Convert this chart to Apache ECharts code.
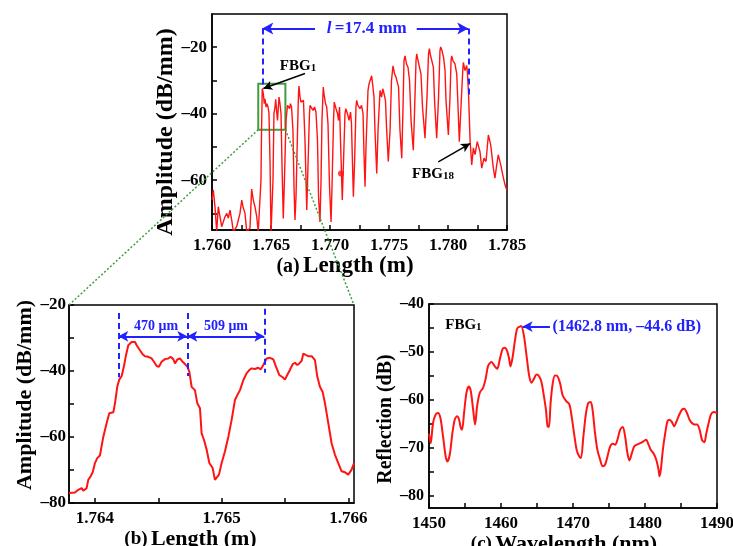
<!DOCTYPE html>
<html><head><meta charset="utf-8">
<script src="https://cdn.jsdelivr.net/npm/echarts@6/dist/echarts.min.js"></script>
<style>html,body{margin:0;padding:0;background:#fff}#c{width:733px;height:546px}</style>
</head><body><div id="c"></div>
<script>
// ---------- Panel (a): amplitude vs length ----------
const lenA = [
1.76000,1.76011,1.76025,1.76040,1.76053,1.76068,1.76082,1.76096,1.76110,1.76125,
1.76138,1.76153,1.76167,1.76181,1.76195,1.76209,1.76223,1.76237,1.76252,1.76265,
1.76280,1.76294,1.76308,1.76322,1.76336,1.76350,1.76364,1.76379,1.76392,1.76407,
1.76415,
1.76420,1.76426,1.76435,1.76443,1.76449,1.76458,1.76466,1.76475,1.76483,1.76492,
1.76500,1.76509,1.76517,1.76525,1.76534,1.76540,1.76547,1.76555,1.76562,1.76568,
1.76576,1.76585,1.76593,1.76604,1.76614,1.76627,1.76640,1.76647,1.76657,1.76665,
1.76674,1.76686,1.76695,1.76703,1.76712,1.76725,1.76733,1.76737,1.76746,1.76754,
1.76767,1.76775,1.76788,1.76803,1.76814,1.76826,1.76831,1.76843,1.76856,1.76869,
1.76881,1.76894,1.76903,1.76915,1.76924,1.76932,1.76943,1.76949,1.76962,1.76972,
1.76983,1.76996,1.77009,1.77017,1.77030,1.77036,1.77051,1.77064,1.77072,1.77081,
1.77089,1.77104,1.77114,1.77127,1.77134,1.77148,1.77161,1.77174,1.77182,1.77187,
1.77198,1.77208,1.77220,1.77226,1.77237,1.77254,1.77267,1.77280,1.77288,1.77297,
1.77305,1.77322,1.77331,1.77353,1.77364,1.77373,1.77381,1.77396,1.77407,1.77424,
1.77437,1.77447,1.77458,1.77470,1.77479,1.77494,1.77509,1.77521,1.77534,1.77547,
1.77559,1.77572,1.77581,1.77593,1.77608,1.77619,1.77627,1.77636,1.77648,1.77661,
1.77674,1.77687,1.77706,1.77716,1.77729,1.77735,1.77746,1.77759,1.77771,1.77784,
1.77805,1.77822,1.77835,1.77842,1.77852,1.77865,1.77876,1.77886,1.77904,1.77920,
1.77932,1.77938,1.77949,1.77962,1.77975,1.77983,1.78003,1.78017,1.78026,1.78031,
1.78042,1.78059,1.78074,1.78085,1.78096,1.78110,1.78125,1.78130,1.78144,1.78159,
1.78165,1.78174,1.78187,1.78201,1.78215,1.78229,1.78248,1.78271,1.78286,1.78305,
1.78322,1.78342,1.78362,1.78384,1.78398,1.78413,1.78426,1.78447,1.78464,1.78483,
1.78498];
const ampA = [
-66,-62.9,-67.9,-75.5,-68,-68.4,-74,-72.5,-71,-70,
-71.4,-69,-72,-75.5,-75,-74,-72,-70,-66,-68.4,
-70,-75.5,-75,-74.4,-62.7,-66,-68,-71,-75.5,-76,
-60,
-45,-32.4,-34,-37,-35.5,-38,-37,-38,-40,-55,
-76,-76,-60,-40,-38,-35.7,-39,-42,-38,-35,
-37,-40,-55,-71.5,-60,-42,-37.5,-37.8,-38.5,-37,
-38,-45,-62,-72,-65,-45,-34,-31.7,-35,-36.5,
-37,-36,-48,-69,-55,-40,-37.5,-38,-39,-38,
-39.5,-48,-65,-72.6,-60,-42,-32,-34,-37,-38,
-43,-62,-72.6,-62,-42,-36.5,-38.5,-40,-42,-38,
-48,-66,-55,-40,-38.5,-40,-42,-39.5,-43,-50,
-65,-55,-38,-36,-37.5,-38.5,-37.5,-40,-52,-62,
-50,-33,-31,-28.6,-32,-35,-45,-58,-45,-33,
-35,-32.5,-34,-36,-44,-54.4,-45,-30,-25.6,-28,
-29,-28.5,-32,-45,-53.4,-38,-24,-22.6,-25,-26,
-30,-42,-51,-40,-24,-22,-24,-24.5,-28,-38,
-47.4,-35,-22,-20.4,-22.5,-23,-26,-36,-47.4,-35,
-21,-19.9,-21,-23,-27,-36,-46.4,-35,-24,-22.6,
-24,-25,-28,-38,-48.4,-38,-27,-24.6,-27,-25.5,
-28,-34,-48,-55.4,-50.3,-52.3,-48.4,-51.4,-56.4,-53.4,
-54.4,-46.4,-49.4,-56.4,-59.4,-55.4,-52.4,-55.4,-58.4,-61.4,
-63];
const dotLenA = [1.77093];
const dotAmpA = [-58];
const tickXA = [1.760,1.7625,1.765,1.7675,1.770,1.7725,1.775,1.7775,1.780,1.7825,1.785];
const labXA = [1.760,1.765,1.770,1.775,1.780,1.785];
const tickYA = [-70,-60,-50,-40,-30,-20];
const labYA = [-60,-40,-20];

// ---------- Panel (b): zoom on FBG1 ----------
const lenB = [
1.763795,1.763842,1.763868,1.763882,1.763895,1.763908,1.763921,1.763934,1.763947,1.763966,
1.763982,1.764000,1.764018,1.764039,1.764066,1.764092,1.764113,1.764145,1.764158,1.764176,
1.764192,1.764211,1.764229,1.764245,1.764263,1.764289,1.764316,1.764329,1.764355,1.764376,
1.764395,1.764421,1.764447,1.764466,1.764487,1.764505,1.764526,1.764553,1.764579,1.764597,
1.764618,1.764632,1.764650,1.764671,1.764692,1.764711,1.764729,1.764745,1.764763,1.764789,
1.764808,1.764829,1.764842,1.764861,1.764882,1.764903,1.764929,1.764947,1.764961,1.764979,
1.765000,1.765026,1.765053,1.765079,1.765105,1.765124,1.765145,1.765171,1.765197,1.765218,
1.765237,1.765263,1.765289,1.765308,1.765329,1.765342,1.765355,1.765382,1.765408,1.765429,
1.765455,1.765482,1.765500,1.765518,1.765539,1.765561,1.765579,1.765597,1.765613,1.765632,
1.765645,1.765666,1.765684,1.765711,1.765737,1.765755,1.765776,1.765797,1.765816,1.765842,
1.765868,1.765895,1.765921,1.765947,1.765974,1.766000,1.766026,1.766045];
const ampB = [
-77.0,-76.8,-76.0,-76.5,-75.5,-76.3,-76.7,-75.5,-73.0,-71.9,
-70.7,-67.9,-66.4,-65.6,-59.9,-55.8,-52.8,-52.5,-49.8,-44.8,
-42.6,-41.5,-38.5,-35.2,-32.2,-31.2,-31.2,-32.2,-33.7,-34.9,
-35.5,-35.7,-36.2,-37.2,-38.5,-38.7,-37.2,-36.4,-36.2,-35.7,
-36.4,-37.7,-36.5,-36.2,-37.2,-37.9,-38.7,-40.2,-44.8,-45.8,
-49.8,-51.3,-58.9,-60.9,-63.9,-67.9,-69.4,-73.0,-73.5,-71.4,
-67.9,-64.4,-59.9,-54.8,-48.8,-47.3,-45.8,-42.8,-40.7,-39.7,
-39.2,-39.4,-39.0,-39.5,-38.2,-37.2,-36.2,-36.0,-36.5,-38.7,
-41.2,-41.9,-42.6,-41.2,-39.7,-37.9,-37.5,-38.2,-37.7,-36.9,
-34.7,-35.2,-35.5,-35.5,-36.7,-41.7,-44.8,-46.3,-49.8,-55.8,
-61.9,-65.4,-67.9,-70.4,-70.7,-71.4,-69.9,-67.9];
const xRangeB = [1.763795, 1.766045];
const yRangeB = [-80, -20];
const tickXB = [1.764,1.7645,1.765,1.7655,1.766];
const labXB = [1.764,1.765,1.766];
const tickYB = [-80,-70,-60,-50,-40,-30,-20];
const labYB = [-80,-60,-40,-20];

// ---------- Panel (c): reflection spectrum of FBG1 ----------
const wlC = [
1450.00,1450.23,1450.56,1450.93,1451.25,1451.58,1451.95,1452.32,1452.55,1452.88,
1453.25,1453.57,1453.90,1454.18,1454.41,1454.59,1454.87,1455.20,1455.52,1455.80,
1456.13,1456.40,1456.68,1457.05,1457.52,1457.89,1458.21,1458.68,1459.14,1459.47,
1459.84,1460.21,1460.53,1460.86,1461.14,1461.32,1461.60,1461.93,1462.25,1462.62,
1462.80,1463.18,1463.55,1463.92,1464.25,1464.57,1464.94,1465.31,1465.64,1465.96,
1466.24,1466.47,1466.66,1466.89,1467.17,1467.49,1467.82,1468.19,1468.56,1469.03,
1469.49,1469.81,1470.14,1470.51,1470.88,1471.11,1471.44,1471.81,1472.13,1472.46,
1472.74,1473.06,1473.39,1473.76,1474.13,1474.45,1474.78,1475.15,1475.52,1475.85,
1476.17,1476.54,1476.91,1477.24,1477.56,1477.84,1478.17,1478.49,1478.86,1479.33,
1479.79,1480.16,1480.49,1480.81,1481.18,1481.55,1481.88,1482.02,1482.20,1482.48,
1482.81,1483.13,1483.41,1483.74,1484.06,1484.34,1484.66,1485.13,1485.45,1485.82,
1486.19,1486.52,1486.84,1487.22,1487.59,1487.91,1488.24,1488.52,1488.84,1489.17,
1489.54,1490.00];
const refC = [
-67.0,-69.0,-64.8,-63.0,-62.7,-63.7,-67.6,-71.8,-72.8,-71.4,
-66.9,-64.1,-63.4,-64.1,-65.8,-66.2,-62.7,-58.5,-57.2,-58.1,
-62.0,-65.1,-61.3,-58.5,-57.4,-55.4,-52.9,-52.1,-53.0,-53.5,
-51.5,-49.4,-49.1,-49.8,-51.5,-53.0,-51.2,-47.7,-45.1,-44.7,
-44.6,-46.6,-50.8,-55.0,-56.4,-55.6,-54.7,-55.1,-56.4,-59.2,
-62.0,-65.5,-65.6,-60.6,-56.7,-54.9,-55.0,-56.4,-59.0,-60.2,
-60.9,-63.4,-66.9,-70.4,-71.8,-72.1,-67.6,-62.7,-60.6,-60.4,
-62.3,-66.9,-70.4,-72.4,-73.8,-73.5,-71.8,-69.7,-69.1,-69.3,
-68.3,-66.2,-65.6,-67.6,-71.1,-72.6,-71.1,-69.7,-69.3,-69.0,
-68.6,-68.3,-69.3,-70.4,-71.1,-72.4,-74.5,-75.9,-74.5,-70.4,
-66.9,-64.4,-64.1,-64.6,-65.5,-64.6,-63.4,-62.0,-61.8,-62.7,
-64.1,-64.8,-65.1,-65.1,-66.2,-68.3,-68.8,-66.9,-64.8,-63.0,
-62.5,-62.7];
const tickXC = [1450,1455,1460,1465,1470,1475,1480,1485,1490];
const labXC = [1450,1460,1470,1480,1490];
const tickYC = [-80,-75,-70,-65,-60,-55,-50,-45,-40];
const labYC = [-80,-70,-60,-50,-40];
const peakC = [1462.8, -44.6];

// zoom window drawn on (a)
const zoomBox = {x0: 1.76392, x1: 1.76622, yTop: -31, yBottom: -44.8};

const zip = (xs, ys) => xs.map((x, i) => [x, ys[i]]);
const SERIF = '"Liberation Serif","Times New Roman",serif';
const RED = '#ff1414', BLUE = '#2222ff', GREEN = '#3f9f3f', BLACK = '#000';
const neg = v => (v < 0 ? '\u2013' + Math.abs(v) : String(v));
const tf = (size, color) => ({fontFamily: SERIF, fontWeight: 'bold', fontSize: size, color: color || BLACK});

function xAx(gi, min, max, ticks, labs, fmt, name, rich, gap, pad, fs) {
  return {
    gridIndex: gi, type: 'value', min: min, max: max,
    axisLine: {show: true, onZero: false, lineStyle: {color: BLACK, width: 1.5}},
    axisTick: {show: true, inside: true, length: 5, customValues: ticks, lineStyle: {color: BLACK, width: 1.5}},
    axisLabel: Object.assign({customValues: labs, formatter: fmt, margin: 7}, tf(fs)),
    splitLine: {show: false},
    name: name, nameLocation: 'middle', nameGap: gap,
    nameTextStyle: {rich: rich, padding: pad}
  };
}
function yAx(gi, min, max, ticks, labs, name, fs, gap, nfs, pad, margin) {
  return {
    gridIndex: gi, type: 'value', min: min, max: max,
    axisLine: {show: true, onZero: false, lineStyle: {color: BLACK, width: 1.5}},
    axisTick: {show: true, inside: true, length: 5, customValues: ticks, lineStyle: {color: BLACK, width: 1.5}},
    axisLabel: Object.assign({customValues: labs, formatter: neg, margin: margin}, tf(fs)),
    splitLine: {show: false},
    name: name, nameLocation: 'middle', nameGap: gap,
    nameTextStyle: Object.assign({padding: pad}, tf(nfs))
  };
}
const richTitle = (a, b) => ({p: tf(a), q: tf(b)});

const chart = echarts.init(document.getElementById('c'));
const gridBase = {show: true, borderColor: BLACK, borderWidth: 1.5, backgroundColor: 'transparent', containLabel: false, outerBoundsMode: 'none'};

const option = {
  animation: false,
  backgroundColor: '#fff',
  grid: [
    Object.assign({left: 212, top: 14, width: 295, height: 216}, gridBase),
    Object.assign({left: 69, top: 305, width: 285, height: 198}, gridBase),
    Object.assign({left: 429, top: 304, width: 288, height: 204}, gridBase)
  ],
  xAxis: [
    xAx(0, 1.760, 1.785, tickXA, labXA, v => v.toFixed(3), '{p|(a)} {q|Length (m)}', richTitle(20, 23), 24, [0, 29, 0, 0], 17),
    xAx(1, xRangeB[0], xRangeB[1], tickXB, labXB, v => v.toFixed(3), '{p|(b)} {q|Length (m)}', richTitle(19, 22), 25, [0, 42, 0, 0], 17),
    xAx(2, 1450, 1490, tickXC, labXC, v => String(v), '{p|(c)} {q|Wavelength (nm)}', richTitle(19, 22), 25, [0, 18, 0, 0], 17)
  ],
  yAxis: [
    yAx(0, -75, -10, tickYA, labYA, 'Amplitude (dB/mm)', 17, 30, 24, [0, 20, 0, 0], 5),
    yAx(1, yRangeB[0], yRangeB[1], tickYB, labYB, 'Amplitude (dB/mm)', 17, 31, 22, [0, 0, 0, 18], 3),
    yAx(2, -82.5, -40, tickYC, labYC, 'Reflection (dB)', 16, 27, 20, [0, 26, 0, 0], 5)
  ],
  series: [
    {
      type: 'line', xAxisIndex: 0, yAxisIndex: 0, data: zip(lenA, ampA),
      symbol: 'none', showSymbol: false, clip: true, z: 3,
      lineStyle: {color: RED, width: 1.4}, itemStyle: {color: RED},
      markArea: {
        silent: true, label: {show: false},
        itemStyle: {color: 'rgba(0,0,0,0)', borderColor: GREEN, borderWidth: 2},
        data: [[{coord: [zoomBox.x0, zoomBox.yTop]}, {coord: [zoomBox.x1, zoomBox.yBottom]}]]
      },
      markLine: {
        silent: true, animation: false, symbol: ['none', 'none'], label: {show: false},
        emphasis: {disabled: true},
        data: [
          [{coord: [1.76426, -14.4], lineStyle: {color: BLUE, width: 2, type: [6, 4]}}, {coord: [1.76426, -32.3]}],
          [{coord: [1.78172, -14.4], lineStyle: {color: BLUE, width: 2, type: [6, 4]}}, {coord: [1.78172, -35]}],
          [{coord: [1.76873, -14.4], lineStyle: {color: BLUE, width: 2, type: 'solid'}}, {coord: [1.76426, -14.4], symbol: 'arrow', symbolSize: [9, 11]}],
          [{coord: [1.77735, -14.4], lineStyle: {color: BLUE, width: 2, type: 'solid'}}, {coord: [1.78172, -14.4], symbol: 'arrow', symbolSize: [9, 11]}],
          [{coord: [1.76788, -27.9], lineStyle: {color: BLACK, width: 1.5, type: 'solid'}}, {coord: [1.76435, -32.4], symbol: 'arrow', symbolSize: [7, 9]}],
          [{coord: [1.77918, -54.5], lineStyle: {color: BLACK, width: 1.5, type: 'solid'}}, {coord: [1.78187, -49], symbol: 'arrow', symbolSize: [7, 9]}]
        ]
      },
      markPoint: {
        silent: true, animation: false, symbol: 'circle', symbolSize: 0,
        data: [
          {coord: [1.76729, -25.4], label: {show: true, position: 'inside', formatter: '{a|FBG}{b|1}',
            rich: {a: Object.assign({verticalAlign: 'bottom', lineHeight: 16}, tf(15)), b: Object.assign({verticalAlign: 'bottom', lineHeight: 16}, tf(11))}}},
          {coord: [1.77873, -58], label: {show: true, position: 'inside', formatter: '{a|FBG}{b|18}',
            rich: {a: Object.assign({verticalAlign: 'bottom', lineHeight: 16}, tf(15)), b: Object.assign({verticalAlign: 'bottom', lineHeight: 16}, tf(11))}}},
          {coord: [1.77311, -14.4], label: {show: true, position: 'inside', formatter: '{i|l} {t|=17.4 mm}',
            rich: {i: Object.assign({fontStyle: 'italic'}, tf(17, BLUE)), t: tf(17, BLUE)}}}
        ]
      }
    },
    {
      type: 'scatter', xAxisIndex: 0, yAxisIndex: 0, data: zip(dotLenA, dotAmpA),
      symbolSize: 6, itemStyle: {color: RED}, z: 4, silent: true
    },
    {
      type: 'line', xAxisIndex: 1, yAxisIndex: 1, data: zip(lenB, ampB),
      symbol: 'none', showSymbol: false, clip: true, z: 3,
      lineStyle: {color: RED, width: 2}, itemStyle: {color: RED},
      markLine: {
        silent: true, animation: false, symbol: ['none', 'none'], label: {show: false},
        emphasis: {disabled: true},
        data: [
          [{coord: [1.764184, -22.4], lineStyle: {color: BLUE, width: 2, type: [6, 4]}}, {coord: [1.764184, -41.9]}],
          [{coord: [1.764729, -22.4], lineStyle: {color: BLUE, width: 2, type: [6, 4]}}, {coord: [1.764729, -41.5]}],
          [{coord: [1.765337, -21.1], lineStyle: {color: BLUE, width: 2, type: [6, 4]}}, {coord: [1.765337, -40.5]}],
          [{coord: [1.764184, -29.5], symbol: 'arrow', symbolSize: [8, 10], lineStyle: {color: BLUE, width: 2, type: 'solid'}}, {coord: [1.764729, -29.5], symbol: 'arrow', symbolSize: [8, 10]}],
          [{coord: [1.764729, -29.5], symbol: 'arrow', symbolSize: [8, 10], lineStyle: {color: BLUE, width: 2, type: 'solid'}}, {coord: [1.765337, -29.5], symbol: 'arrow', symbolSize: [8, 10]}]
        ]
      },
      markPoint: {
        silent: true, animation: false, symbol: 'circle', symbolSize: 0,
        data: [
          {coord: [1.764482, -26.4], label: Object.assign({show: true, position: 'inside', formatter: '470 \u03bcm'}, tf(14, BLUE))},
          {coord: [1.765034, -26.4], label: Object.assign({show: true, position: 'inside', formatter: '509 \u03bcm'}, tf(14, BLUE))}
        ]
      }
    },
    {
      type: 'line', xAxisIndex: 2, yAxisIndex: 2, data: zip(wlC, refC),
      symbol: 'none', showSymbol: false, clip: true, z: 3, smooth: 0.3,
      lineStyle: {color: RED, width: 2}, itemStyle: {color: RED},
      markLine: {
        silent: true, animation: false, symbol: ['none', 'none'], label: {show: false},
        emphasis: {disabled: true},
        data: [
          [{coord: [1466.8, peakC[1] - 0.1], lineStyle: {color: BLUE, width: 2, type: 'solid'}}, {coord: [1463.0, peakC[1] - 0.1], symbol: 'arrow', symbolSize: [8, 10]}]
        ]
      },
      markPoint: {
        silent: true, animation: false, symbol: 'circle', symbolSize: 0,
        data: [
          {coord: [1454.78, -44.2], label: {show: true, position: 'inside', formatter: '{a|FBG}{b|1}',
            rich: {a: Object.assign({verticalAlign: 'bottom', lineHeight: 16}, tf(15)), b: Object.assign({verticalAlign: 'bottom', lineHeight: 16}, tf(11))}}},
          {coord: [1467.03, peakC[1] - 0.1], label: Object.assign({show: true, position: 'right', distance: 1,
            formatter: '(' + peakC[0] + ' nm, \u2013' + Math.abs(peakC[1]) + ' dB)'}, tf(16, BLUE))}
        ]
      }
    }
  ]
};
chart.setOption(option);

function drawConnectors() {
  const a1 = chart.convertToPixel({gridIndex: 0}, [zoomBox.x0, zoomBox.yBottom]);
  const a2 = chart.convertToPixel({gridIndex: 0}, [zoomBox.x1, zoomBox.yBottom]);
  const b1 = chart.convertToPixel({gridIndex: 1}, [xRangeB[0], yRangeB[1]]);
  const b2 = chart.convertToPixel({gridIndex: 1}, [xRangeB[1], yRangeB[1]]);
  const st = {stroke: GREEN, lineWidth: 1.5, lineDash: [2, 2]};
  chart.setOption({graphic: [
    {type: 'line', silent: true, z: 50, shape: {x1: a1[0], y1: a1[1], x2: b1[0], y2: b1[1]}, style: st},
    {type: 'line', silent: true, z: 50, shape: {x1: a2[0], y1: a2[1], x2: b2[0], y2: b2[1]}, style: st}
  ]});
}
drawConnectors();
</script>
</body></html>
